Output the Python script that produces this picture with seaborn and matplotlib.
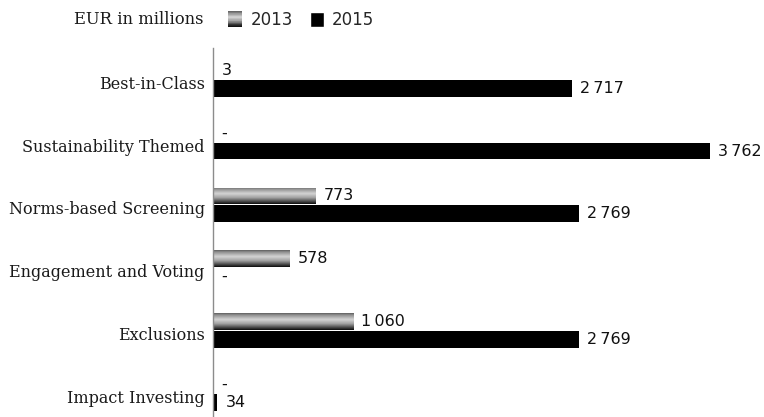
import numpy as np
import pandas as pd
import matplotlib
matplotlib.use("Agg")
import matplotlib.pyplot as plt
import matplotlib.transforms as mtransforms
from matplotlib.patches import Rectangle
from matplotlib.legend_handler import HandlerBase
from matplotlib.colors import LinearSegmentedColormap
import seaborn as sns

categories = ["Best-in-Class", "Sustainability Themed", "Norms-based Screening",
              "Engagement and Voting", "Exclusions", "Impact Investing"]
values_2013 = [3, np.nan, 773, 578, 1060, np.nan]
values_2015 = [2717, 3762, 2769, np.nan, 2769, 34]
years = ["2013", "2015"]
legend_title = "EUR in millions"

sns.set_theme(style="white")
plt.rcParams["font.family"] = ["DejaVu Sans"]

rows = []
for yr, vals in zip(years, [values_2013, values_2015]):
    for c, v in zip(categories, vals):
        rows.append({"category": c, "year": yr, "raw": v,
                     "value": 0.0 if pd.isna(v) else float(v)})
df = pd.DataFrame(rows)

fig = plt.figure(figsize=(7.64, 4.17), dpi=100)
ax = fig.add_axes([213 / 764, 0.0, 1 - 213 / 764, (417 - 48) / 417])

sns.barplot(data=df, y="category", x="value", hue="year", hue_order=years,
            order=categories, palette={"2013": "#8a8a8a", "2015": "#000000"},
            orient="h", width=0.57, gap=0.06, saturation=1, linewidth=0,
            legend=False, ax=ax)

# gradient for 2013 bars
grad_cmap = LinearSegmentedColormap.from_list(
    "metal", [(0.0, "#5e5e5e"), (0.1, "#8e8e8e"), (0.38, "#d4d4d4"),
              (0.62, "#a4a4a4"), (0.85, "#4a4a4a"), (1.0, "#0c0c0c")])
grad = np.linspace(0, 1, 64).reshape(-1, 1)
for patch in ax.containers[0]:
    w = patch.get_width()
    if w <= 0:
        continue
    x0, y0, h = patch.get_x(), patch.get_y(), patch.get_height()
    im = ax.imshow(grad, cmap=grad_cmap, aspect="auto", origin="upper",
                   extent=(x0, x0 + w, y0 + h, y0), interpolation="bilinear",
                   zorder=patch.get_zorder() + 0.1)
    im.set_clip_path(patch)

ax.set_xlim(0, 4171)
ax.set_ylim(5.38, -0.5)

# value labels
for cont, yr in zip(ax.containers, years):
    raw = df[df.year == yr].set_index("category").loc[categories, "raw"].tolist()
    labels = ["-" if pd.isna(v) else f"{v:,.0f}".replace(",", "\u2009") for v in raw]
    ax.bar_label(cont, labels=labels, padding=6, fontsize=11.5,
                 color="#111111", family="DejaVu Sans")

ax.set_xlabel("")
ax.set_ylabel("")
ax.set_xticks([])
ax.tick_params(axis="y", length=0, pad=6)
for lab in ax.get_yticklabels():
    lab.set_fontfamily("DejaVu Serif")
    lab.set_fontsize(11.5)
    lab.set_color("#1a1a1a")
    lab.set_transform(lab.get_transform() +
                      mtransforms.ScaledTranslation(0, -3 / 100, fig.dpi_scale_trans))
for s in ["top", "right", "bottom"]:
    ax.spines[s].set_visible(False)
ax.spines["left"].set_color("#8c8c8c")
ax.spines["left"].set_linewidth(1.0)


class GradientHandler(HandlerBase):
    def create_artists(self, legend, orig_handle, xdescent, ydescent,
                       width, height, fontsize, trans):
        n = 24
        arts = []
        x0, y0 = -xdescent, -ydescent
        for i in range(n):
            frac = (i + 0.5) / n
            r = Rectangle((x0, y0 + height * (1 - (i + 1) / n)),
                          width, height / n + 0.3,
                          facecolor=grad_cmap(frac), edgecolor="none",
                          transform=trans)
            arts.append(r)
        return arts


h2013 = Rectangle((0, 0), 1, 1, facecolor="#8a8a8a")
h2015 = Rectangle((0, 0), 1, 1, facecolor="#000000")
fig.text(204 / 764, 1 - 20 / 417, legend_title, ha="right", va="center",
         fontsize=11.8, family="DejaVu Serif", color="#1a1a1a")
fig.legend([h2013, h2015], years, loc="center left",
           bbox_to_anchor=(228 / 764, 1 - 20 / 417), ncol=2, frameon=False,
           fontsize=12, handlelength=0.85, handleheight=1.0,
           handletextpad=0.5, columnspacing=1.0, borderaxespad=0, borderpad=0,
           handler_map={h2013: GradientHandler()})

fig.savefig("out.png", dpi=100)
